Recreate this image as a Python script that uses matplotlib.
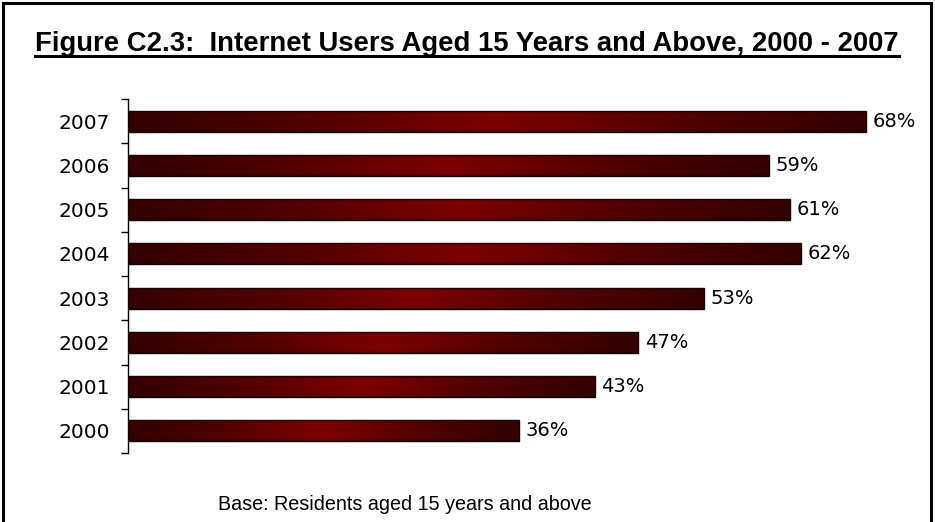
import numpy as np
import matplotlib
matplotlib.use("Agg")
import matplotlib.pyplot as plt
from matplotlib.patches import Rectangle
from matplotlib.colors import LinearSegmentedColormap

years = ["2000", "2001", "2002", "2003", "2004", "2005", "2006", "2007"]
values = [36, 43, 47, 53, 62, 61, 59, 68]
value_labels = ["36%", "43%", "47%", "53%", "62%", "61%", "59%", "68%"]
title = "Figure C2.3:  Internet Users Aged 15 Years and Above, 2000 - 2007"
note = "Base: Residents aged 15 years and above"

W, H = 935, 522
fig = plt.figure(figsize=(W / 100, H / 100), dpi=100)
fig.patch.set_facecolor("white")

# outer frame
fig.patches.append(Rectangle((3 / W, -0.05), (931 - 3) / W, (H - 3) / H + 0.05,
                             transform=fig.transFigure, fill=False, lw=2.2,
                             edgecolor="black"))

ax_left, ax_right = 128, 888
ax_top, ax_bot = 99, 453
ax = fig.add_axes([ax_left / W, 1 - ax_bot / H, (ax_right - ax_left) / W, (ax_bot - ax_top) / H])
ax.set_xlim(0, (ax_right - ax_left) / 10.86)
ax.set_ylim(-0.5, len(years) - 0.5)

cmap = LinearSegmentedColormap.from_list("g", ["#340000", "#520000", "#7e0202", "#520000", "#340000"])
xs = np.linspace(0, 1, 256)
ys = np.linspace(-1, 1, 40)
base = cmap(xs)[None, :, :3]
vshade = (1 - 0.25 * np.abs(ys) ** 6)[:, None, None]
grad = np.clip(base * vshade, 0, 1)

bh = 0.48
bars = ax.barh(np.arange(len(years)), values, height=bh, facecolor="none",
               edgecolor="#1a0000", lw=1.0, zorder=3)
for i, (b, v) in enumerate(zip(bars, values)):
    im = ax.imshow(grad, extent=[0, v, i - bh / 2, i + bh / 2], aspect="auto",
                   zorder=2, interpolation="bilinear")
    im.set_clip_path(b)
    ax.text(v + 0.6, i, value_labels[i], va="center", ha="left",
            fontsize=14, family="DejaVu Sans", clip_on=False)

for s in ["top", "right", "bottom"]:
    ax.spines[s].set_visible(False)
ax.spines["left"].set_linewidth(1.0)
ax.set_xticks([])
ax.set_yticks(np.arange(-0.5, len(years)), minor=False)
ax.set_yticklabels([])
ax.set_yticks(np.arange(len(years)), minor=True)
ax.set_yticklabels(years, minor=True, fontsize=14.5, family="DejaVu Sans")
ax.tick_params(axis="y", which="major", length=5, width=1.0, direction="out")
ax.tick_params(axis="y", which="minor", length=0, pad=13)

t = fig.text(467 / W, 1 - 51 / H, title, ha="center", va="baseline",
             fontsize=19.8, fontweight="bold", family="Liberation Sans")
fig.canvas.draw()
bb = t.get_window_extent()
fig.add_artist(plt.Line2D([bb.x0 / W, bb.x1 / W], [1 - 56 / H, 1 - 56 / H],
                          transform=fig.transFigure, color="black", lw=2.2))

fig.text(405 / W, 1 - 510 / H, note, ha="center", va="baseline",
         fontsize=14.2, family="Liberation Sans")

fig.savefig("out.png", dpi=100)
